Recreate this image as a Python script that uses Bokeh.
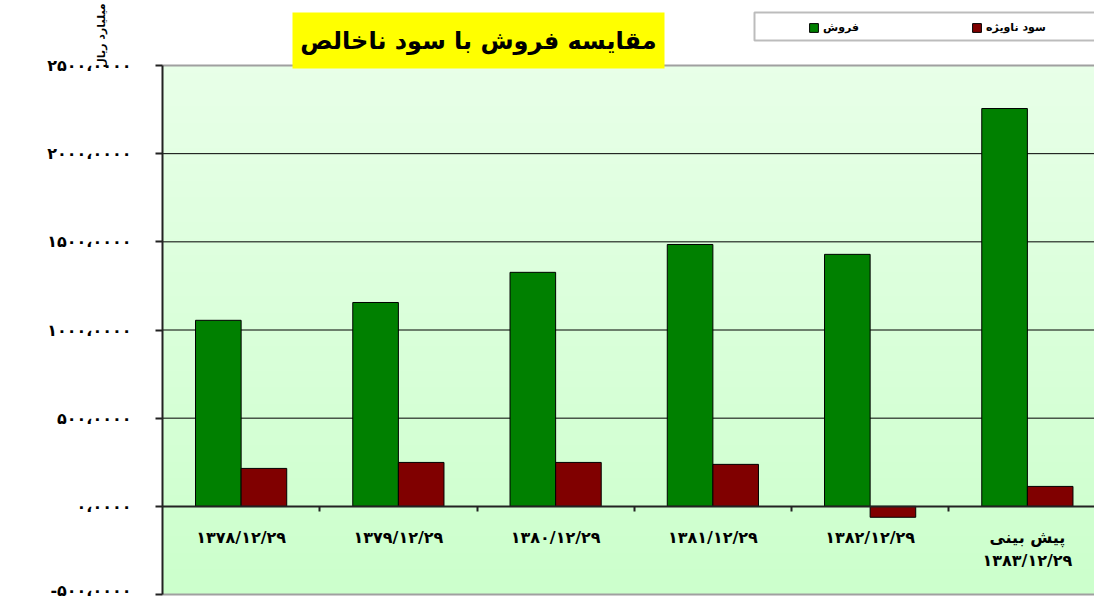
import numpy as np
from bokeh.plotting import figure
from bokeh.models import (Range1d, LinearAxis, FixedTicker, Legend, LegendItem,
                          Label, BoxAnnotation, ColumnDataSource)
from bokeh.transform import dodge
from bokeh.embed import file_html
from bokeh.resources import INLINE

# ---------------- data ----------------
categories = ["۱۳۷۸/۱۲/۲۹", "۱۳۷۹/۱۲/۲۹", "۱۳۸۰/۱۲/۲۹", "۱۳۸۱/۱۲/۲۹",
              "۱۳۸۲/۱۲/۲۹", "پیش بینی\n۱۳۸۳/۱۲/۲۹"]
sales = [1055, 1156, 1327, 1485, 1429, 2256]
gross_profit = [215, 249, 249, 238, -62, 113]
series_names = ["فروش", "سود ناویژه"]
y_ticks = [-500, 0, 500, 1000, 1500, 2000, 2500]
y_tick_labels = ["-۵۰۰،۰۰۰۰", "۰،۰۰۰۰", "۵۰۰،۰۰۰۰", "۱۰۰۰،۰۰۰۰",
                 "۱۵۰۰،۰۰۰۰", "۲۰۰۰،۰۰۰۰", "۲۵۰۰،۰۰۰۰"]
title_text = "مقایسه فروش با سود ناخالص"
y_title = "میلیارد ریال"

# ---------------- layout helpers (page pixels -> data) ----------------
W, H = 1094, 599
AXIS_X_PX = 162                    # page x of the value axis
Y_TOP_PX, Y_BOT_PX = 65, 594       # page y of the top / bottom value lines
PX_PER_CAT = 157.25
Y_MIN, Y_MAX = y_ticks[0], y_ticks[-1]
UNITS_PER_PX = (Y_MAX - Y_MIN) / (Y_BOT_PX - Y_TOP_PX)

def dx(px):
    return (px - AXIS_X_PX) / PX_PER_CAT

def dy(py):
    return Y_MAX + (Y_TOP_PX - py) * UNITS_PER_PX

FONT = "DejaVu Sans"

n = len(categories)
centers = [i + 0.5 for i in range(n)]
src = ColumnDataSource(dict(x=centers, sales=sales, profit=gross_profit))

p = figure(width=W, height=H,
           x_range=Range1d(dx(0), dx(W)), y_range=Range1d(dy(H), dy(0)),
           x_axis_location=None, y_axis_location=None,
           output_backend="svg", toolbar_location=None,
           min_border=0,
           background_fill_color="white", border_fill_color="white",
           outline_line_color=None)
p.grid.visible = False

# gradient plot-area background
rows = 64
t = np.linspace(0, 1, rows)[:, None]          # 0 = bottom, 1 = top
bottom_rgb = np.array([204, 255, 204])
top_rgb = np.array([232, 255, 232])
img = np.empty((rows, 1), dtype=np.uint32)
view = img.view(dtype=np.uint8).reshape((rows, 1, 4))
for k in range(3):
    view[:, :, k] = (bottom_rgb[k] + (top_rgb[k] - bottom_rgb[k]) * t).astype(np.uint8)
view[:, :, 3] = 255
p.image_rgba(image=[img], x=0, y=Y_MIN, dw=n, dh=Y_MAX - Y_MIN, level="image")

# horizontal grid lines (black) and plot-area border lines (grey)
grid_vals = [v for v in y_ticks if Y_MIN < v < Y_MAX and v != 0]
border_vals = [Y_MIN, Y_MAX]
p.segment(x0=[0] * len(grid_vals), x1=[n] * len(grid_vals), y0=grid_vals, y1=grid_vals,
          line_color="black", line_width=1)
p.segment(x0=[0] * 2, x1=[n] * 2, y0=border_vals, y1=border_vals,
          line_color="#A0A0A0", line_width=2)

# bars
bw = 0.29
r_sales = p.vbar(x=dodge("x", -0.145, range=p.x_range), top="sales", bottom=0, width=bw,
                 source=src, fill_color="#008000", line_color="black", line_width=1)
r_profit = p.vbar(x=dodge("x", 0.145, range=p.x_range), top="profit", bottom=0, width=bw,
                  source=src, fill_color="#800000", line_color="black", line_width=1)

# value axis
ya = LinearAxis(fixed_location=0, ticker=FixedTicker(ticks=y_ticks), bounds=(Y_MIN, Y_MAX))
ya.major_label_overrides = dict(zip(y_ticks, y_tick_labels))
ya.axis_line_color = "#222222"
ya.axis_line_width = 2
ya.major_tick_line_color = "#222222"
ya.major_tick_line_width = 2
ya.major_tick_out = 7
ya.major_tick_in = 0
ya.minor_tick_out = 0
ya.minor_tick_in = 0
ya.major_label_standoff = 24
ya.major_label_text_font = FONT
ya.major_label_text_font_style = "bold"
ya.major_label_text_font_size = "16px"
ya.major_label_text_color = "black"
p.add_layout(ya, "left")

# category axis at zero
xa = LinearAxis(fixed_location=0, bounds=(0, n),
                ticker=FixedTicker(ticks=centers, minor_ticks=list(range(1, n))))
xa.major_label_overrides = dict(zip(centers, categories))
xa.axis_line_color = "#222222"
xa.axis_line_width = 2
xa.major_tick_out = 0
xa.major_tick_in = 0
xa.minor_tick_out = 5
xa.minor_tick_in = 0
xa.minor_tick_line_color = "#222222"
xa.minor_tick_line_width = 2
xa.major_label_standoff = 17
xa.major_label_text_font = FONT
xa.major_label_text_font_style = "bold"
xa.major_label_text_font_size = "16px"
xa.major_label_text_color = "black"
p.add_layout(xa, "below")

# axis title (rotated, top-left)
p.add_layout(Label(x=dx(101), y=dy(35), text=y_title, angle=np.pi / 2,
                   text_align="center", text_baseline="middle",
                   text_font=FONT, text_font_style="bold", text_font_size="11px",
                   text_color="black"))

# title box
p.add_layout(BoxAnnotation(left=dx(292), right=dx(664), top=dy(12), bottom=dy(68),
                           fill_color="#FFFF00", fill_alpha=1, line_color=None))
p.add_layout(Label(x=dx(478), y=dy(40), text=title_text,
                   text_align="center", text_baseline="middle",
                   text_font=FONT, text_font_style="bold", text_font_size="24px",
                   text_color="black"))

# legend frame + legend
p.add_layout(BoxAnnotation(left=dx(754), right=dx(1110), top=dy(12), bottom=dy(40),
                           fill_color="white", fill_alpha=1,
                           line_color="#222222", line_width=2))
legend = Legend(items=[LegendItem(label=series_names[0], renderers=[r_sales]),
                       LegendItem(label=series_names[1], renderers=[r_profit])],
                orientation="horizontal",
                location=(808, H - 34),
                padding=0, spacing=112, margin=0,
                glyph_width=11, glyph_height=11, label_standoff=4,
                label_text_font=FONT, label_text_font_style="bold",
                label_text_font_size="11px", label_text_color="black",
                border_line_alpha=0, background_fill_alpha=0)
p.add_layout(legend, "center")

open("out.html", "w").write(file_html(p, INLINE))
